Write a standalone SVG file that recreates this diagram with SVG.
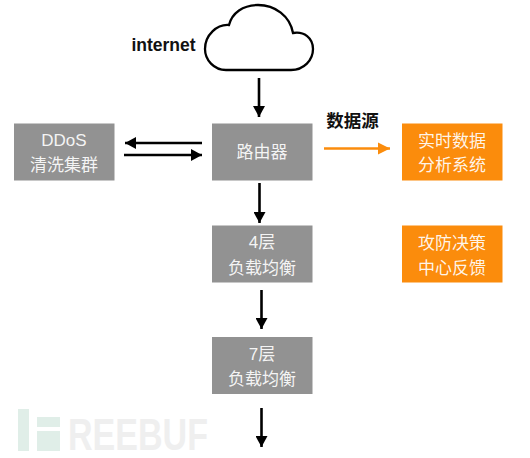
<svg xmlns="http://www.w3.org/2000/svg" width="530" height="458" viewBox="0 0 530 458">
<style>
text{font-family:"Liberation Sans","Noto Sans CJK SC",sans-serif;text-anchor:middle}
.g{fill:#929292}.o{fill:#fb8c0c}
.t{fill:#fff;font-size:17px;fill-opacity:.92}
.l{stroke:#000;stroke-width:2.6;fill:none}
.b{fill:#111;font-weight:bold;font-size:17.500px}
</style>
<defs>
<marker id="k" markerUnits="userSpaceOnUse" markerWidth="12" markerHeight="12" refX="11" refY="6" orient="auto"><path d="M0 0L11 6L0 12Z" fill="#000"/></marker>
<marker id="a" markerUnits="userSpaceOnUse" markerWidth="13" markerHeight="13" refX="12" refY="6.500" orient="auto"><path d="M0 0.500L12 6.500L0 12.500Z" fill="#fb8c0c"/></marker>
</defs>
<g id="watermark">
<rect x="18" y="409" width="11" height="42" fill="#e0eee8"/>
<rect x="37" y="417" width="23" height="10" fill="#e0eee8"/>
<rect x="37" y="431" width="23" height="20" fill="#e0eee8"/>
<text x="138" y="450" font-size="44" font-weight="bold" fill="#efefef" textLength="140" lengthAdjust="spacingAndGlyphs">REEBUF</text>
</g>
<g id="internet">
<path d="M226 70H291C304 70 313 60 313 49C313 38 304 31 293 33C290 16 275 5 258 5C243 5 232 13 229 25C217 24 205 35 205 49C205 60 214 70 226 70Z" fill="#fff" stroke="#000" stroke-width="2.300"/>
<text class="b" x="163.500" y="51">internet</text>
</g>
<g id="ddos"><rect class="g" x="14" y="123.500" width="100.500" height="57"/>
<text class="t" x="64" y="146">DDoS</text><text class="t" x="64" y="171">清洗集群</text></g>
<g id="router"><rect class="g" x="212" y="123.500" width="100.500" height="57"/>
<text class="t" x="262" y="158">路由器</text></g>
<g id="l4"><rect class="g" x="212" y="225.500" width="100.500" height="57"/>
<text class="t" x="262" y="248">4层</text><text class="t" x="262" y="274">负载均衡</text></g>
<g id="l7"><rect class="g" x="212" y="337" width="100.500" height="57"/>
<text class="t" x="262" y="360">7层</text><text class="t" x="262" y="385">负载均衡</text></g>
<g id="realtime"><rect class="o" x="402" y="123.500" width="100.500" height="57"/>
<text class="t" x="452" y="147">实时数据</text><text class="t" x="452" y="171">分析系统</text></g>
<g id="feedback"><rect class="o" x="402" y="225.500" width="100.500" height="57"/>
<text class="t" x="452" y="249">攻防决策</text><text class="t" x="452" y="274">中心反馈</text></g>
<text class="b" x="352.500" y="127">数据源</text>
<g id="connectors">
<path class="l" d="M259 78V117" marker-end="url(#k)"/>
<path class="l" d="M259.500 183V223" marker-end="url(#k)"/>
<path class="l" d="M261.500 290V329" marker-end="url(#k)"/>
<path class="l" d="M261.500 408V447" marker-end="url(#k)"/>
<path class="l" d="M202 143H125" marker-end="url(#k)"/>
<path class="l" d="M124 155H202" marker-end="url(#k)"/>
<path d="M324 148.500H390" fill="none" stroke="#fb8c0c" stroke-width="2.400" marker-end="url(#a)"/>
</g>
</svg>
